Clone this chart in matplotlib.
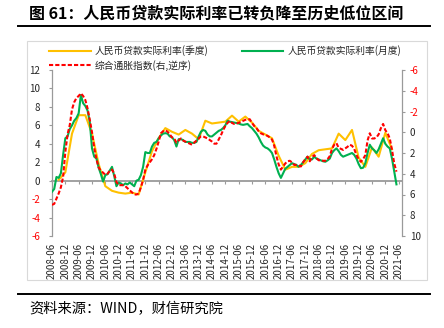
import numpy as np
import matplotlib
matplotlib.use("Agg")
import matplotlib.pyplot as plt
from matplotlib.lines import Line2D
from matplotlib.patches import Rectangle

plt.rcParams['font.family'] = ['Noto Sans CJK SC', 'DejaVu Sans']
plt.rcParams['axes.unicode_minus'] = False

# ---------------- data ----------------
tick_labels = ['2008-06', '2008-12', '2009-06', '2009-12', '2010-06', '2010-12',
               '2011-06', '2011-12', '2012-06', '2012-12', '2013-06', '2013-12',
               '2014-06', '2014-12', '2015-06', '2015-12', '2016-06', '2016-12',
               '2017-06', '2017-12', '2018-06', '2018-12', '2019-06', '2019-12',
               '2020-06', '2020-12', '2021-06']

# monthly real loan rate (left axis), from 2008-06
rate_monthly = [
    -1.2, -0.9, 0.4, 0.3, 0.8, 2.8, 4.6, 4.8, 5.6, 6.0, 6.5, 6.8,
    7.3, 9.3, 8.4, 8.1, 7.6, 6.4, 3.5, 2.6, 2.4, 1.4, 0.7, -0.1,
    0.6, 0.7, 1.1, 1.5, 0.5, -0.6, -0.2, -0.3, -0.5, -0.3, -0.4, -0.2,
    -0.4, -0.6, 0.0, 0.1, 0.6, 1.5, 3.1, 3.0, 3.0, 3.7, 4.1, 4.2,
    4.6, 4.9, 5.1, 5.15, 5.1, 4.8, 4.7, 4.4, 3.7, 4.5, 4.5, 4.4,
    4.2, 4.2, 4.2, 4.1, 4.1, 4.2, 4.8, 5.3, 5.5, 5.4, 5.0, 4.8,
    4.8, 5.0, 5.2, 5.4, 5.5, 5.7, 6.0, 6.5, 6.4, 6.35, 6.3, 6.25,
    6.2, 6.1, 6.05, 6.1, 6.15, 5.9, 5.7, 5.4, 5.1, 4.7, 4.2, 3.8,
    3.6, 3.5, 3.3, 3.0, 2.3, 1.5, 0.8, 0.3, 0.8, 1.3, 1.5, 1.7,
    1.9, 1.8, 1.7, 1.5, 1.7, 2.0, 2.3, 2.6, 2.3, 2.3, 2.6, 2.4,
    2.3, 2.2, 2.1, 2.05, 2.2, 2.4, 3.0, 3.3, 3.5, 3.2, 2.8, 2.6,
    2.7, 2.8, 2.9, 3.0, 2.8, 2.4, 1.8, 1.35, 1.4, 1.9, 3.0, 3.9,
    3.5, 3.3, 3.0, 3.4, 4.0, 4.6, 4.0, 3.7, 3.5, 2.4, 1.0, -0.4]

# quarterly real loan rate (left axis), from 2008-09
rate_quarterly = [
    0.1, 0.9, 5.1, 7.1, 7.1, 5.1, 1.8, -0.6, -1.1, -1.3, -1.4, -1.3,
    -1.5, 0.9, 3.2, 4.6, 5.7, 5.3, 5.0, 5.5, 5.1, 4.5, 6.5, 6.2,
    6.3, 6.4, 7.05, 6.4, 6.95, 6.3, 5.4, 5.0, 4.6, 2.7, 1.2, 1.5,
    1.5, 1.9, 2.9, 3.3, 3.4, 3.5, 5.1, 4.4, 5.5, 2.5, 1.5, 3.6,
    2.6, 5.2, 3.4]

# composite inflation index (right axis, reversed), from 2008-06
inflation = [
    7.0, 6.9, 6.4, 5.9, 5.3, 4.3, 1.9, 0.2, -0.7, -2.2, -2.9, -3.3,
    -3.5, -3.75, -3.5, -3.1, -2.3, -1.2, 0.0, 1.5, 2.6, 3.4, 3.7, 3.9,
    4.1, 4.0, 3.7, 3.6, 4.0, 4.8, 5.1, 5.1, 5.1, 5.2, 5.4, 5.6,
    5.8, 6.0, 6.0, 5.9, 5.3, 4.6, 3.6, 3.2, 2.9, 2.6, 2.2, 1.6,
    0.9, 0.1, -0.1, -0.2, -0.05, 0.2, 0.5, 0.6, 1.0, 0.8, 0.6, 0.8,
    0.9, 1.0, 1.1, 1.2, 1.0, 0.8, 0.6, 0.4, 0.4, 0.5, 0.6, 0.75,
    0.9, 1.1, 1.1, 0.7, 0.3, -0.2, -0.6, -0.9, -1.1, -0.9, -0.8, -0.85,
    -0.9, -1.0, -1.1, -1.2, -1.25, -1.25, -0.9, -0.6, -0.4, -0.1, 0.1, 0.2,
    0.25, 0.35, 0.5, 0.7, 1.3, 2.3, 3.1, 3.6, 3.3, 3.0, 2.8, 2.75,
    2.9, 3.15, 3.15, 3.2, 3.3, 2.9, 2.6, 2.35, 2.8, 2.4, 2.2, 2.5,
    2.7, 2.7, 2.75, 2.75, 2.6, 2.3, 1.6, 1.2, 1.05, 1.5, 1.6, 1.7,
    1.55, 1.4, 1.2, 1.3, 1.6, 2.2, 2.6, 2.85, 2.6, 2.2, 0.8, 0.1,
    0.6, 0.6, 0.5, 0.2, -0.4, -0.8, -0.2, 0.1, 0.6, 1.7, 3.0, 3.8]

label_q = '人民币贷款实际利率(季度)'
label_m = '人民币贷款实际利率(月度)'
label_i = '综合通胀指数(右,逆序)'

# ---------------- figure ----------------
W, H = 444, 328
fig = plt.figure(figsize=(W / 100, H / 100), dpi=100)

def fx(px):
    return px / W

def fy(py):
    return 1 - py / H

# chart frame
fig.patches.append(Rectangle((fx(27), fy(280)), fx(427) - fx(27), fy(40.7) - fy(280),
                             transform=fig.transFigure, fill=False,
                             edgecolor='#d9d9d9', lw=0.8))
# header / footer rules
fig.add_artist(Line2D([fx(18), fx(430)], [fy(26), fy(26)], color='black', lw=1.4))
fig.add_artist(Line2D([fx(18), fx(430)], [fy(294), fy(294)], color='black', lw=1.4))

fig.text(fx(29), fy(13), '图 61：人民币贷款实际利率已转负降至历史低位区间',
         fontsize=11.5, fontweight='bold', va='center', ha='left', color='black')
fig.text(fx(29), fy(309), '资料来源：WIND，财信研究院', fontsize=10.3,
         style='italic', va='center', ha='left', color='black')

ax = fig.add_axes([fx(52), fy(236), fx(402) - fx(52), fy(70) - fy(236)])
ax2 = ax.twinx()

xm = np.arange(len(rate_monthly))
xq = 3 + 3 * np.arange(len(rate_quarterly))
xi = np.arange(len(inflation))

ax.plot(xq, rate_quarterly, color='#FFC000', lw=1.5, zorder=3)
ax.plot(xm, rate_monthly, color='#00B050', lw=1.5, zorder=4)
ax2.plot(xi, inflation, color='#FF0000', lw=1.5, linestyle=(0, (2, 1)), zorder=5)

ax.set_xlim(0, 157.5)
ax.set_ylim(-6, 12)
ax2.set_ylim(10, -6)
ax.set_yticks(np.arange(-6, 13, 2))
ax2.set_yticks(np.arange(-6, 11, 2))

axis_col = '#9a9a9a'
for s in ['top', 'right']:
    ax.spines[s].set_visible(False)
for s in ['top', 'left', 'bottom']:
    ax2.spines[s].set_visible(False)
ax.spines['left'].set_color(axis_col)
ax.spines['left'].set_linewidth(0.9)
ax2.spines['right'].set_color(axis_col)
ax2.spines['right'].set_linewidth(0.9)
ax.spines['bottom'].set_position(('data', 0))
ax.spines['bottom'].set_color(axis_col)
ax.spines['bottom'].set_linewidth(1.3)

ax.set_xticks(np.arange(0, 157, 6))
ax.set_xticklabels(tick_labels, rotation=90, fontsize=7, color='#262626')
ax.tick_params(axis='x', direction='out', length=2.5, width=0.8, color=axis_col, pad=42.5)
ax.tick_params(axis='y', direction='out', length=2, width=0.8, color=axis_col, pad=6.5,
               labelsize=7)
ax2.tick_params(axis='y', direction='out', length=2, width=0.8, color=axis_col, pad=3.5,
                labelsize=7)

for lab, v in zip(ax.get_yticklabels(), np.arange(-6, 13, 2)):
    lab.set_color('#FF0000' if v < 0 else '#262626')
for lab, v in zip(ax2.get_yticklabels(), np.arange(-6, 11, 2)):
    lab.set_color('#FF0000' if v < 0 else '#262626')

ax.set_facecolor('none')
ax2.set_facecolor('none')

handles = [Line2D([], [], color='#FFC000', lw=1.5),
           Line2D([], [], color='#FF0000', lw=1.5, linestyle=(0, (2, 1))),
           Line2D([], [], color='#00B050', lw=1.5)]
labels = [label_q, label_i, label_m]
leg = fig.legend(handles, labels, loc='upper left', bbox_to_anchor=(fx(49), fy(45.5)),
                 ncol=2, frameon=False, borderpad=0, borderaxespad=0,
                 handlelength=4.3, handletextpad=0.4, columnspacing=3.4,
                 labelspacing=0.35, fontsize=7)
for t in leg.get_texts():
    t.set_color('#262626')

fig.savefig('out.png', dpi=100)
